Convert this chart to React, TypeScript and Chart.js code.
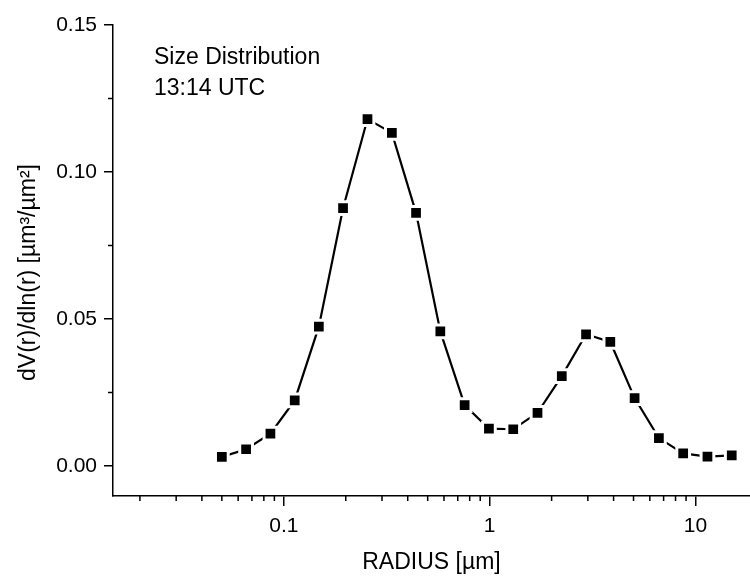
import React, { useEffect, useRef } from "react";
import { Chart, registerables } from "chart.js";

Chart.register(...registerables);

// ---- data ----
const radiusUm = [
  0.05, 0.0656, 0.0861, 0.113, 0.148, 0.194, 0.255, 0.335, 0.439, 0.576, 0.756,
  0.992, 1.302, 1.708, 2.241, 2.94, 3.857, 5.061, 6.641, 8.713, 11.432, 15.0,
];
const dVdlnr = [
  0.0031, 0.0057, 0.011, 0.0223, 0.0474, 0.0877, 0.118, 0.1133, 0.0861, 0.0458,
  0.0207, 0.0127, 0.0125, 0.0181, 0.0306, 0.0448, 0.0422, 0.0231, 0.0095, 0.0043,
  0.0032, 0.0036,
];
const xMajorTicks = [0.1, 1, 10];
const xMinorTicks = [
  0.02, 0.03, 0.04, 0.05, 0.06, 0.07, 0.08, 0.09,
  0.2, 0.3, 0.4, 0.5, 0.6, 0.7, 0.8, 0.9,
  2, 3, 4, 5, 6, 7, 8, 9,
];
const yMajorTicks = [0, 0.05, 0.1, 0.15];
const yMinorTicks = [0.025, 0.075, 0.125];
const xRange = [0.0148, 18.4];
const yRange = [-0.0102, 0.15];
const annotationLines = ["Size Distribution", "13:14 UTC"];
const xTitle = "RADIUS [µm]";
const yTitle = "dV(r)/dln(r) [µm³/µm²]";

const FONT = '"Liberation Sans", Arial, sans-serif';

const minorTickPlugin = {
  id: "minorTicks",
  afterDraw(chart: any) {
    const { ctx, chartArea, scales } = chart;
    ctx.save();
    ctx.strokeStyle = "#000";
    ctx.lineWidth = 1.5;
    ctx.beginPath();
    for (const v of xMinorTicks) {
      const px = scales.x.getPixelForValue(v);
      if (px < chartArea.left || px > chartArea.right) continue;
      ctx.moveTo(px, chartArea.bottom);
      ctx.lineTo(px, chartArea.bottom + 5);
    }
    for (const v of yMinorTicks) {
      const py = scales.y.getPixelForValue(v);
      ctx.moveTo(chartArea.left - 5, py);
      ctx.lineTo(chartArea.left, py);
    }
    ctx.stroke();
    ctx.restore();
  },
};

const textPlugin = {
  id: "textItems",
  afterDraw(chart: any) {
    const { ctx, chartArea } = chart;
    ctx.save();
    ctx.fillStyle = "#000";
    ctx.font = `23px ${FONT}`;
    ctx.textAlign = "left";
    ctx.textBaseline = "alphabetic";
    annotationLines.forEach((t, i) => {
      ctx.fillText(t, chartArea.left + 41, chartArea.top + 39 + i * 31);
    });
    // y-axis title
    ctx.font = `23px ${FONT}`;
    ctx.textAlign = "center";
    ctx.textBaseline = "middle";
    ctx.translate(29, (chartArea.top + chartArea.bottom) / 2 + 12);
    ctx.rotate(-Math.PI / 2);
    ctx.fillText(yTitle, 0, 0);
    ctx.restore();
  },
};

export default function App() {
  const ref = useRef<HTMLCanvasElement>(null);

  useEffect(() => {
    if (!ref.current) return;
    const chart = new Chart(ref.current, {
      type: "line",
      data: {
        datasets: [
          {
            data: radiusUm.map((r, i) => ({ x: r, y: dVdlnr[i] })),
            borderColor: "#000",
            borderWidth: 2.2,
            tension: 0,
            pointStyle: "rect",
            pointRadius: 9,
            pointBackgroundColor: "#000",
            pointBorderColor: "#fff",
            pointBorderWidth: 3,
          },
        ],
      },
      options: {
        responsive: false,
        animation: false,
        events: [],
        layout: { autoPadding: false, padding: { top: 25, left: 0, right: 0, bottom: 0 } },
        plugins: {
          legend: { display: false },
          tooltip: { enabled: false },
        },
        scales: {
          x: {
            type: "logarithmic",
            min: xRange[0],
            max: xRange[1],
            afterBuildTicks: (s: any) => {
              s.ticks = xMajorTicks.map((v) => ({ value: v }));
            },
            afterFit: (s: any) => {
              s.height = 80;
              s.paddingLeft = 0;
              s.paddingRight = 0;
            },
            ticks: {
              color: "#000",
              font: { family: FONT, size: 21 },
              padding: 8,
              maxRotation: 0,
              autoSkip: false,
              callback: (v: any) => String(v),
            },
            grid: {
              display: true,
              drawOnChartArea: false,
              drawTicks: true,
              tickLength: 10,
              color: "#000",
              lineWidth: 1.5,
            },
            border: { display: true, color: "#000", width: 1.5 },
            title: {
              display: true,
              text: xTitle,
              color: "#000",
              font: { family: FONT, size: 23 },
              padding: { top: 0, bottom: 0 },
            },
          },
          y: {
            type: "linear",
            min: yRange[0],
            max: yRange[1],
            afterBuildTicks: (s: any) => {
              s.ticks = yMajorTicks.map((v) => ({ value: v }));
            },
            afterFit: (s: any) => {
              s.width = 113;
              s.paddingTop = 0;
              s.paddingBottom = 0;
            },
            ticks: {
              color: "#000",
              font: { family: FONT, size: 21 },
              padding: 7,
              autoSkip: false,
              callback: (v: any) => Number(v).toFixed(2),
            },
            grid: {
              display: true,
              drawOnChartArea: false,
              drawTicks: true,
              tickLength: 9,
              color: "#000",
              lineWidth: 1.5,
            },
            border: { display: true, color: "#000", width: 1.5 },
            title: { display: false },
          },
        },
      },
      plugins: [minorTickPlugin, textPlugin],
    } as any);
    return () => chart.destroy();
  }, []);

  return (
    <div style={{ position: "fixed", left: 0, top: 0, width: 750, height: 576, background: "#fff" }}>
      <canvas ref={ref} width={750} height={576} style={{ display: "block" }} />
    </div>
  );
}
